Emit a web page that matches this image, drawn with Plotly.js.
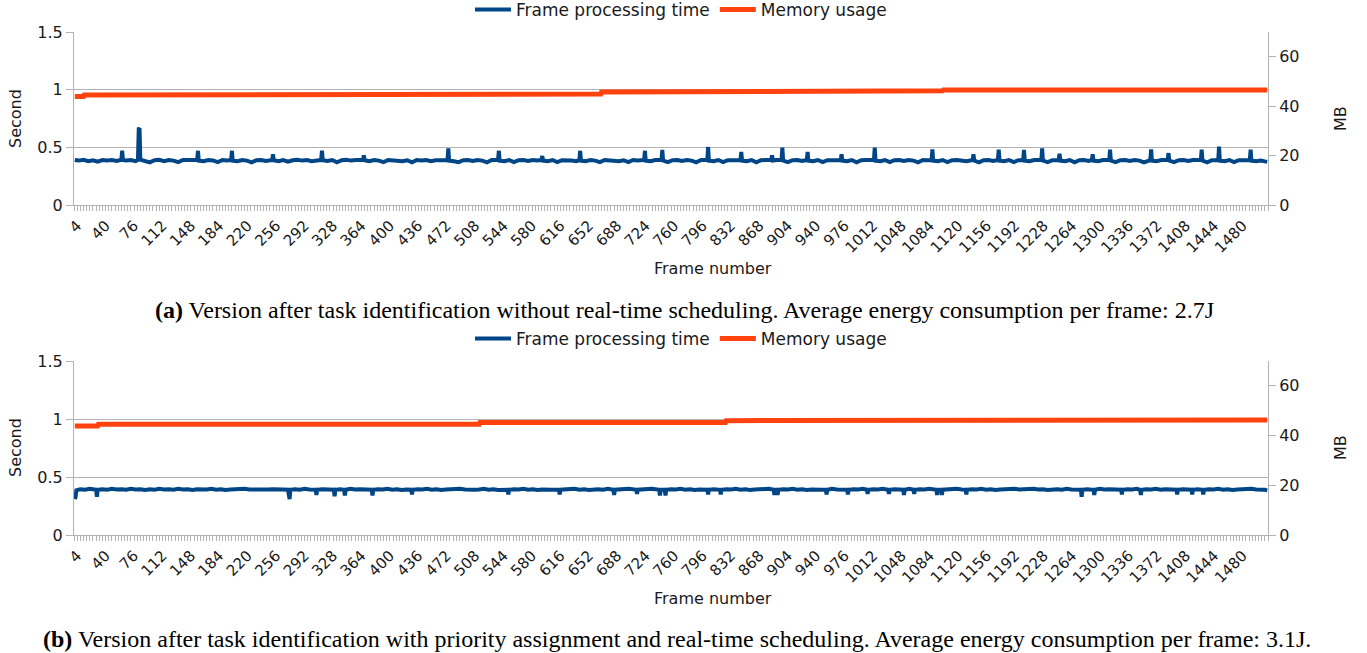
<!DOCTYPE html>
<html>
<head>
<meta charset="utf-8">
<script src="https://cdn.plot.ly/plotly-3.0.1.min.js"></script>
<style>html,body{margin:0;padding:0;background:#fff;}#chart{width:1367px;height:653px;}</style>
</head>
<body>
<div id="chart"></div>
<script>
// ---------- data ----------
const tickFrames = [4,40,76,112,148,184,220,256,292,328,364,400,436,472,508,544,580,616,652,688,724,760,796,832,868,904,940,976,1012,1048,1084,1120,1156,1192,1228,1264,1300,1336,1372,1408,1444,1480];

// (a) frame processing time, seconds
const framesA = [1,6,12,18,24,30,36,42,48,54,59,60,61,62,66,72,78,81,82,83,84,90,96,102,108,114,120,126,132,138,144,150,156,157,158,164,170,176,182,188,194,199,200,201,207,213,219,225,231,237,243,251,252,253,259,265,271,277,283,289,295,301,307,313,314,315,321,327,333,339,345,351,357,366,367,368,374,380,386,392,398,404,410,416,422,428,434,440,446,452,458,464,470,473,474,475,481,487,493,499,505,511,517,523,529,537,538,539,545,551,557,563,569,575,581,587,592,593,594,600,606,612,618,624,630,636,640,641,642,648,654,660,666,672,678,684,690,696,702,708,714,722,723,724,730,736,744,745,746,752,758,764,770,776,782,788,794,802,803,804,810,816,822,828,834,840,844,845,846,852,858,864,870,876,883,884,885,890,896,897,898,904,910,916,922,928,929,930,936,942,948,954,960,966,971,972,973,979,985,991,997,1003,1009,1013,1014,1015,1021,1027,1033,1039,1045,1051,1057,1063,1069,1075,1081,1086,1087,1088,1094,1100,1106,1112,1118,1124,1130,1138,1139,1140,1146,1152,1158,1164,1170,1171,1172,1178,1184,1190,1196,1202,1203,1204,1210,1216,1225,1226,1227,1233,1239,1247,1248,1249,1255,1261,1267,1273,1279,1285,1289,1290,1291,1297,1303,1311,1312,1313,1319,1325,1331,1337,1343,1349,1355,1363,1364,1365,1371,1377,1385,1386,1387,1393,1399,1405,1411,1417,1423,1427,1428,1429,1435,1441,1449,1450,1451,1457,1463,1469,1475,1481,1489,1490,1491,1497,1503,1508,1511];
const timeA = [0.39,0.385,0.392,0.38,0.388,0.375,0.39,0.385,0.39,0.382,0.39,0.39,0.47,0.39,0.385,0.39,0.38,0.392,0.66,0.665,0.392,0.385,0.37,0.388,0.392,0.38,0.39,0.385,0.372,0.39,0.388,0.392,0.39,0.47,0.385,0.38,0.39,0.386,0.372,0.39,0.385,0.39,0.47,0.385,0.38,0.39,0.385,0.37,0.388,0.39,0.382,0.39,0.44,0.388,0.38,0.39,0.375,0.388,0.392,0.385,0.39,0.38,0.388,0.39,0.47,0.388,0.382,0.39,0.37,0.388,0.392,0.385,0.39,0.39,0.43,0.388,0.38,0.39,0.385,0.372,0.39,0.386,0.39,0.38,0.388,0.37,0.39,0.385,0.39,0.38,0.388,0.39,0.385,0.39,0.49,0.385,0.38,0.372,0.388,0.39,0.382,0.39,0.385,0.37,0.39,0.39,0.47,0.385,0.38,0.39,0.372,0.388,0.39,0.382,0.39,0.385,0.39,0.425,0.385,0.38,0.39,0.372,0.388,0.39,0.385,0.38,0.39,0.47,0.385,0.38,0.39,0.385,0.372,0.39,0.388,0.39,0.38,0.388,0.372,0.39,0.385,0.39,0.47,0.385,0.38,0.39,0.39,0.477,0.385,0.372,0.388,0.39,0.382,0.39,0.385,0.37,0.39,0.39,0.503,0.385,0.38,0.39,0.372,0.388,0.39,0.385,0.39,0.46,0.385,0.38,0.39,0.37,0.388,0.39,0.39,0.43,0.385,0.39,0.39,0.497,0.385,0.372,0.388,0.39,0.382,0.39,0.46,0.385,0.38,0.39,0.372,0.388,0.39,0.385,0.39,0.44,0.385,0.38,0.39,0.37,0.388,0.39,0.385,0.39,0.497,0.385,0.38,0.39,0.372,0.388,0.39,0.382,0.39,0.385,0.37,0.39,0.388,0.39,0.483,0.385,0.38,0.39,0.372,0.388,0.39,0.385,0.38,0.39,0.44,0.385,0.37,0.388,0.39,0.382,0.39,0.48,0.385,0.38,0.39,0.372,0.388,0.39,0.478,0.385,0.38,0.39,0.39,0.49,0.385,0.372,0.388,0.39,0.445,0.385,0.38,0.39,0.37,0.388,0.39,0.382,0.39,0.44,0.385,0.38,0.39,0.39,0.48,0.385,0.372,0.388,0.39,0.382,0.39,0.385,0.37,0.39,0.483,0.385,0.38,0.39,0.39,0.45,0.385,0.372,0.388,0.39,0.382,0.39,0.385,0.39,0.48,0.385,0.37,0.388,0.39,0.506,0.385,0.38,0.39,0.372,0.388,0.39,0.39,0.48,0.385,0.38,0.385,0.378,0.375];

// (a) memory usage, MB
const memFramesA = [1,12,13,360,361,667,668,800,801,1100,1101,1511];
const memA = [43.9,43.9,44.5,44.5,44.9,44.9,45.7,45.7,46.2,46.2,46.5,46.5];

// (b) frame processing time, seconds
const framesB = [1,2,3,8,14,20,26,28,29,30,36,42,48,54,60,66,72,78,84,90,96,102,108,114,120,126,132,138,144,150,156,162,168,174,180,186,192,198,204,210,216,222,228,234,240,246,252,258,264,271,272,273,274,280,286,292,298,306,307,308,314,320,329,330,331,337,342,343,344,350,356,362,368,377,378,379,385,391,397,403,409,415,421,427,428,429,435,441,447,453,459,465,471,477,483,489,495,501,507,513,519,525,531,537,543,549,550,551,557,563,569,575,581,587,593,599,605,614,615,616,622,628,634,640,646,652,658,664,670,676,683,684,685,691,697,703,712,713,714,720,726,732,741,742,743,748,749,750,756,762,768,774,780,786,792,802,803,804,810,818,819,820,826,832,838,844,850,856,862,868,874,880,886,887,888,890,891,892,898,904,910,916,922,928,934,940,946,952,953,954,960,966,972,979,980,981,987,993,999,1004,1005,1006,1012,1018,1024,1031,1032,1033,1039,1045,1050,1051,1052,1058,1063,1064,1065,1071,1077,1083,1092,1093,1094,1098,1099,1100,1106,1112,1118,1124,1129,1130,1131,1137,1143,1149,1155,1161,1167,1173,1179,1185,1191,1197,1203,1209,1215,1221,1227,1233,1239,1245,1251,1257,1263,1269,1275,1276,1277,1283,1291,1292,1293,1299,1305,1311,1317,1326,1327,1328,1334,1340,1346,1350,1351,1352,1358,1364,1370,1376,1382,1388,1396,1397,1398,1404,1410,1415,1416,1417,1423,1429,1430,1431,1437,1443,1449,1455,1461,1467,1473,1479,1485,1491,1497,1503,1508,1511];
const timeB = [0.31,0.33,0.385,0.395,0.39,0.398,0.392,0.39,0.33,0.39,0.395,0.39,0.398,0.392,0.395,0.39,0.398,0.392,0.395,0.388,0.395,0.39,0.398,0.392,0.395,0.39,0.398,0.392,0.395,0.388,0.395,0.39,0.392,0.398,0.39,0.395,0.388,0.392,0.395,0.39,0.398,0.392,0.39,0.395,0.388,0.392,0.395,0.39,0.392,0.39,0.32,0.31,0.39,0.395,0.39,0.398,0.392,0.39,0.345,0.39,0.395,0.39,0.39,0.335,0.39,0.395,0.39,0.34,0.39,0.398,0.392,0.395,0.39,0.39,0.34,0.39,0.395,0.392,0.398,0.39,0.395,0.388,0.392,0.39,0.35,0.39,0.395,0.392,0.398,0.39,0.395,0.388,0.392,0.395,0.39,0.398,0.392,0.395,0.39,0.392,0.398,0.39,0.395,0.388,0.392,0.39,0.35,0.39,0.395,0.392,0.398,0.39,0.395,0.388,0.392,0.395,0.39,0.39,0.35,0.39,0.395,0.392,0.398,0.39,0.395,0.388,0.392,0.395,0.39,0.398,0.39,0.345,0.39,0.395,0.392,0.398,0.39,0.355,0.39,0.395,0.392,0.398,0.39,0.34,0.39,0.39,0.34,0.39,0.395,0.392,0.398,0.39,0.395,0.388,0.392,0.39,0.35,0.39,0.395,0.39,0.35,0.39,0.395,0.392,0.398,0.39,0.395,0.388,0.392,0.395,0.39,0.398,0.39,0.345,0.39,0.39,0.345,0.39,0.395,0.392,0.398,0.39,0.395,0.388,0.392,0.395,0.39,0.39,0.35,0.39,0.398,0.392,0.395,0.39,0.35,0.39,0.395,0.392,0.398,0.39,0.355,0.39,0.395,0.392,0.398,0.39,0.355,0.39,0.395,0.392,0.39,0.345,0.39,0.398,0.39,0.355,0.39,0.395,0.392,0.398,0.39,0.345,0.39,0.39,0.345,0.39,0.395,0.392,0.398,0.392,0.39,0.35,0.39,0.395,0.392,0.398,0.39,0.395,0.388,0.392,0.395,0.39,0.398,0.392,0.395,0.39,0.398,0.392,0.395,0.388,0.392,0.395,0.39,0.398,0.392,0.395,0.39,0.33,0.39,0.395,0.39,0.345,0.39,0.398,0.392,0.395,0.39,0.39,0.35,0.39,0.395,0.392,0.398,0.39,0.345,0.39,0.395,0.392,0.398,0.39,0.395,0.392,0.39,0.35,0.39,0.395,0.392,0.39,0.35,0.39,0.395,0.39,0.35,0.39,0.395,0.392,0.398,0.39,0.395,0.388,0.392,0.395,0.39,0.398,0.392,0.395,0.39,0.385];

// (b) memory usage, MB
const memFramesB = [1,30,31,513,514,825,826,1300,1301,1511];
const memB = [43.9,43.9,44.6,44.6,45.3,45.3,46.0,46.0,46.3,46.3];

const seriesNames = ['Frame processing time', 'Memory usage'];
const captionA = '<b>(a)</b> Version after task identification without real-time scheduling. Average energy consumption per frame: 2.7J';
const captionB = '<b>(b)</b> Version after task identification with priority assignment and real-time scheduling. Average energy consumption per frame: 3.1J.';

// ---------- layout helpers ----------
const W = 1367, H = 653, PL = 74, PR = 1268;
const fx = p => (p - PL) / (PR - PL);
const fy = p => 1 - p / H;
const BLUE = '#004586', RED = '#ff420e', GRID = '#b3b3b3', TXT = '#1a1a1a';
const SANS = 'DejaVu Sans';

const traces = [
  {x: framesA, y: timeA, xaxis: 'x', yaxis: 'y', type: 'scatter', mode: 'lines', name: seriesNames[0], legend: 'legend',
   line: {color: BLUE, width: 4}},
  {x: memFramesA, y: memA, xaxis: 'x', yaxis: 'y2', type: 'scatter', mode: 'lines', name: seriesNames[1], legend: 'legend',
   line: {color: RED, width: 5}},
  {x: framesB, y: timeB, xaxis: 'x2', yaxis: 'y3', type: 'scatter', mode: 'lines', name: seriesNames[0], legend: 'legend2',
   line: {color: BLUE, width: 4}},
  {x: memFramesB, y: memB, xaxis: 'x2', yaxis: 'y4', type: 'scatter', mode: 'lines', name: seriesNames[1], legend: 'legend2',
   line: {color: RED, width: 5}}
];

function xAxis(anchor) {
  return {
    anchor: anchor, domain: [0, 1], range: [0, 1512], type: 'linear',
    tickmode: 'array', tickvals: tickFrames, ticktext: tickFrames.map(String),
    ticks: 'outside', ticklen: 5, tickcolor: GRID, tickwidth: 1, tickangle: -45,
    tickfont: {family: SANS, size: 15, color: TXT},
    showgrid: false, zeroline: false, showline: true, linecolor: GRID, linewidth: 1,
    minor: {ticks: 'outside', tick0: 0, dtick: 4, ticklen: 5, tickcolor: GRID, tickwidth: 1, showgrid: false},
    automargin: false, fixedrange: true
  };
}
function yLeft(domain, anchor) {
  return {
    anchor: anchor, domain: domain, range: [0, 1.5], tickmode: 'linear', tick0: 0, dtick: 0.5,
    ticks: 'outside', ticklen: 7, tickcolor: GRID, tickfont: {family: SANS, size: 16, color: TXT},
    showgrid: true, gridcolor: GRID, gridwidth: 1, zeroline: false, showline: true, linecolor: GRID,
    automargin: false, fixedrange: true
  };
}
function yRight(overlay, anchor) {
  return {
    anchor: anchor, overlaying: overlay, side: 'right', range: [0, 70], tickmode: 'linear', tick0: 0, dtick: 20,
    ticks: 'outside', ticklen: 7, tickcolor: GRID, tickfont: {family: SANS, size: 16, color: TXT},
    showgrid: false, zeroline: false, showline: true, linecolor: GRID,
    automargin: false, fixedrange: true
  };
}

const titleFont = {family: SANS, size: 16, color: TXT};
const capFont = {family: 'Liberation Serif', size: 24, color: '#000'};
const annotations = [
  {text: 'Second', x: fx(15), y: fy(119), textangle: -90},
  {text: 'MB', x: fx(1340), y: fy(119), textangle: -90},
  {text: 'Frame number', x: fx(713), y: fy(268)},
  {text: 'Second', x: fx(15), y: fy(448), textangle: -90},
  {text: 'MB', x: fx(1340), y: fy(448), textangle: -90},
  {text: 'Frame number', x: fx(713), y: fy(598)}
].map(a => Object.assign({xref: 'paper', yref: 'paper', showarrow: false, xanchor: 'center', yanchor: 'middle', font: titleFont}, a));
annotations.push({text: captionA, x: fx(684), y: fy(310), xref: 'paper', yref: 'paper', showarrow: false, xanchor: 'center', yanchor: 'middle', font: capFont});
annotations.push({text: captionB, x: fx(677), y: fy(639), xref: 'paper', yref: 'paper', showarrow: false, xanchor: 'center', yanchor: 'middle', font: capFont});

const legendBase = {orientation: 'h', xanchor: 'center', yanchor: 'middle', bgcolor: 'rgba(0,0,0,0)', itemwidth: 36,
  font: {family: SANS, size: 17, color: TXT}, itemclick: false, itemdoubleclick: false};

const layout = {
  width: W, height: H, margin: {l: PL, r: W - PR, t: 0, b: 0, pad: 0, autoexpand: false},
  paper_bgcolor: '#fff', plot_bgcolor: '#fff', font: {family: SANS, color: TXT},
  showlegend: true,
  legend: Object.assign({x: fx(681), y: fy(10)}, legendBase),
  legend2: Object.assign({x: fx(681), y: fy(339)}, legendBase),
  xaxis: xAxis('y'),
  yaxis: yLeft([fy(205), fy(32)], 'x'),
  yaxis2: yRight('y', 'x'),
  xaxis2: xAxis('y3'),
  yaxis3: yLeft([fy(535), fy(361)], 'x2'),
  yaxis4: yRight('y3', 'x2'),
  annotations: annotations
};

Plotly.newPlot('chart', traces, layout, {staticPlot: true, displayModeBar: false});
</script>
</body>
</html>
